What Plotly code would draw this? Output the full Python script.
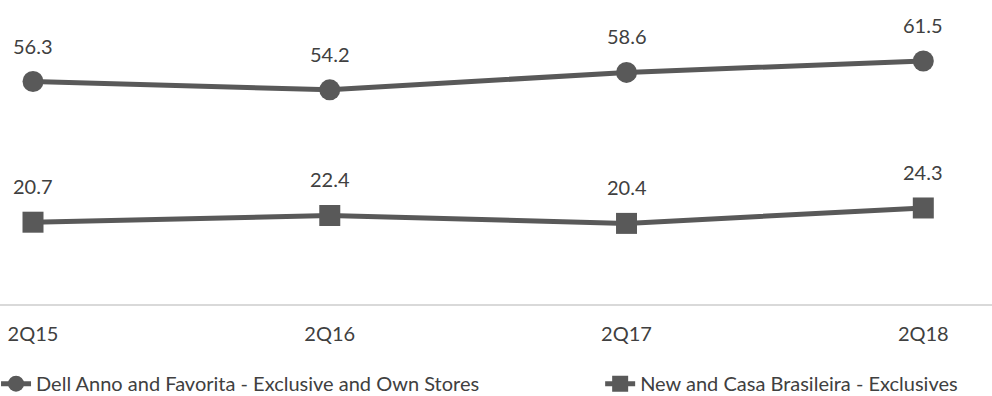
import plotly.graph_objects as go

quarters = ["2Q15", "2Q16", "2Q17", "2Q18"]
dell_anno = [56.3, 54.2, 58.6, 61.5]
new_casa = [20.7, 22.4, 20.4, 24.3]
series_names = [
    "Dell Anno and Favorita - Exclusive and Own Stores",
    "New and Casa Brasileira - Exclusives",
]

LINE = "#595959"
TEXT = "#404040"
FONT = "Lato"

fig = go.Figure()
fig.add_trace(go.Scatter(
    x=quarters, y=dell_anno, name=series_names[0], mode="lines+markers",
    line=dict(color=LINE, width=5),
    marker=dict(symbol="circle", size=21, color=LINE),
    legend="legend",
))
fig.add_trace(go.Scatter(
    x=quarters, y=new_casa, name=series_names[1], mode="lines+markers",
    line=dict(color=LINE, width=5),
    marker=dict(symbol="square", size=21, color=LINE),
    legend="legend2",
))

for series in (dell_anno, new_casa):
    for q, v in zip(quarters, series):
        fig.add_annotation(
            x=q, y=v, text=f"{v:.1f}", showarrow=False, yshift=36,
            font=dict(family=FONT, size=20, color=TEXT),
        )

legend_common = dict(
    orientation="h", xanchor="left", yanchor="middle", y=-0.262,
    font=dict(family=FONT, size=20, color=TEXT),
    bgcolor="rgba(0,0,0,0)",
)

fig.update_layout(
    width=992, height=396,
    margin=dict(l=0, r=0, t=0, b=92, autoexpand=False),
    paper_bgcolor="white", plot_bgcolor="white",
    font=dict(family=FONT, size=20, color=TEXT),
    xaxis=dict(
        type="category", range=[-0.1112, 3.2315],
        showline=True, linecolor="#d9d9d9", linewidth=1.5,
        showgrid=False, zeroline=False, ticks="",
        ticklabelstandoff=11,
        tickfont=dict(family=FONT, size=20, color=TEXT),
    ),
    yaxis=dict(
        range=[0, 76.93], showgrid=False, zeroline=False,
        showticklabels=False, showline=False,
    ),
    showlegend=True,
    legend=dict(x=-0.004, **legend_common),
    legend2=dict(x=0.605, **legend_common),
)

fig.write_html("out.html")
